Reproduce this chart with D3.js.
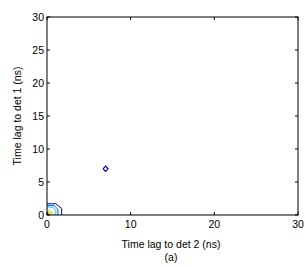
<!DOCTYPE html>
<html><head><meta charset="utf-8">
<script src="https://cdn.jsdelivr.net/npm/d3@7"></script>
<style>body{margin:0;background:#fff}svg{display:block}text{font-family:"Liberation Sans",Arial,sans-serif;font-size:10.5px;fill:#000}</style>
</head><body>
<script>
const xTicks = [0, 10, 20, 30];
const yTicks = [0, 5, 10, 15, 20, 25, 30];
const xLabel = "Time lag to det 2 (ns)";
const yLabel = "Time lag to det 1 (ns)";
const caption = "(a)";
const contourColors = ["#0000b0", "#0060ff", "#00c8ff", "#70f070", "#e8d800", "#ff8000", "#e00000"];
const contour1 = [[0,1.7],[1.05,1.7],[1.75,1.0],[1.75,0]];
const contour2 = [[0,1.45],[0.85,1.45],[1.3,0.85],[1.3,0]];
const contour3 = [[0,1.2],[0.7,1.2],[1.05,0.7],[1.05,0]];
const contour4 = [[0,0.95],[0.95,0]];
const contour5 = [[0,0.7],[0.7,0]];
const contour6 = [[0,0.45],[0.45,0]];
const contour7 = [[0,0.25],[0.25,0]];
const island = [[6.7,7],[7,7.4],[7.3,7],[7,6.6],[6.7,7]];

const W = 305, H = 267;
const m = {l:47, r:298, t:17, b:215};
const x = d3.scaleLinear().domain([0,30]).range([m.l, m.r]);
const y = d3.scaleLinear().domain([0,30]).range([m.b, m.t]);
const svg = d3.select("body").append("svg").attr("width", W).attr("height", H);

const line = d3.line().x(d => x(d[0])).y(d => y(d[1]));
const contours = [contour1, contour2, contour3, contour4, contour5, contour6, contour7];
svg.append("g").selectAll("path").data(contours).join("path")
  .attr("d", line).attr("fill", "none")
  .attr("stroke", (d,i) => contourColors[i]).attr("stroke-width", 1);
svg.append("path").datum(island).attr("d", line).attr("fill", "none")
  .attr("stroke", contourColors[0]).attr("stroke-width", 1.2);

svg.append("rect").attr("x", m.l).attr("y", m.t).attr("width", m.r - m.l).attr("height", m.b - m.t)
  .attr("fill", "none").attr("stroke", "#000").attr("stroke-width", 1);

const tl = 3;
const g = svg.append("g");
xTicks.forEach(t => {
  g.append("line").attr("x1", x(t)).attr("x2", x(t)).attr("y1", m.b).attr("y2", m.b - tl).attr("stroke", "#000");
  g.append("line").attr("x1", x(t)).attr("x2", x(t)).attr("y1", m.t).attr("y2", m.t + tl).attr("stroke", "#000");
  g.append("text").attr("x", x(t)).attr("y", m.b + 13).attr("text-anchor", "middle").text(t);
});
yTicks.forEach(t => {
  g.append("line").attr("x1", m.l).attr("x2", m.l + tl).attr("y1", y(t)).attr("y2", y(t)).attr("stroke", "#000");
  g.append("line").attr("x1", m.r).attr("x2", m.r - tl).attr("y1", y(t)).attr("y2", y(t)).attr("stroke", "#000");
  g.append("text").attr("x", m.l - 3).attr("y", y(t) + 4).attr("text-anchor", "end").text(t);
});
svg.append("text").attr("x", 171).attr("y", 248).attr("text-anchor", "middle").text(xLabel);
svg.append("text").attr("x", 171).attr("y", 261).attr("text-anchor", "middle").text(caption);
svg.append("text").attr("transform", `translate(21,${(m.t + m.b) / 2}) rotate(-90)`).attr("text-anchor", "middle").text(yLabel);
</script>
</body></html>
